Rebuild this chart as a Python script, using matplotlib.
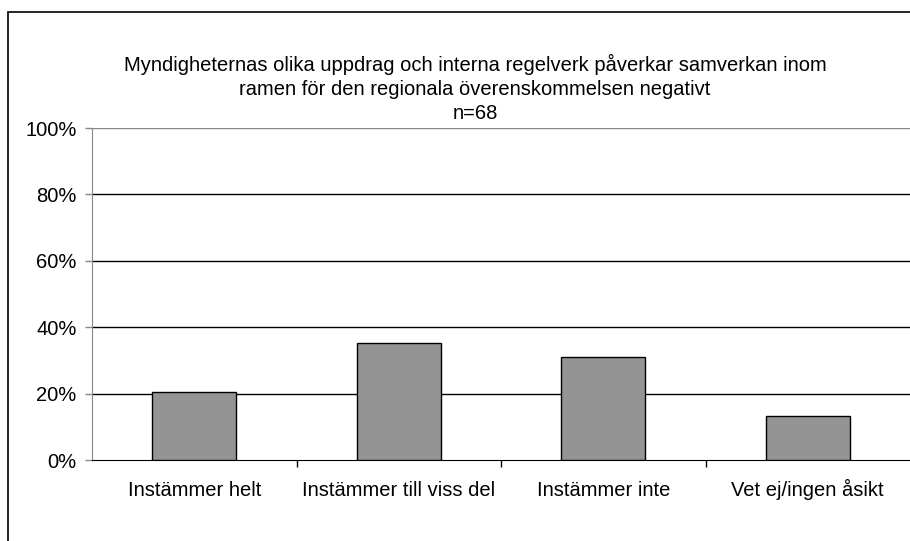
import matplotlib.pyplot as plt
from matplotlib.patches import Rectangle

plt.rcParams['font.family'] = ['Liberation Sans', 'DejaVu Sans']

categories = ["Instämmer helt", "Instämmer till viss del", "Instämmer inte", "Vet ej/ingen åsikt"]
counts = [14, 24, 21, 9]
n_total = 68
shares = [c / n_total * 100 for c in counts]
yticks = [0, 20, 40, 60, 80, 100]
title = ("Myndigheternas olika uppdrag och interna regelverk påverkar samverkan inom\n"
         "ramen för den regionala överenskommelsen negativt\n"
         "n=68")
fs = 14.5

fig = plt.figure(figsize=(9.1, 5.41), dpi=100)
# chart frame, running off the right and bottom edges
fig.patches.append(Rectangle((8 / 910, -0.1), 1.0, (541 - 12) / 541 + 0.1,
                             transform=fig.transFigure, fill=False,
                             edgecolor="black", linewidth=1.2))

ax = fig.add_axes([92 / 910, (541 - 460) / 541, (910 - 92) / 910, (460 - 128) / 541])
x = range(len(categories))
ax.bar(x, shares, width=0.41, color="#949494", edgecolor="black", linewidth=1.0, zorder=3)

ax.set_xlim(-0.5, len(categories) - 0.5)
ax.set_ylim(0, 100)
ax.set_yticks(yticks)
ax.set_yticklabels([f"{t}%" for t in yticks], fontsize=fs)
for t in yticks[1:-1]:
    ax.axhline(t, color="black", linewidth=1.0, zorder=1)
ax.axhline(100, color="#888888", linewidth=1.0, zorder=1)

ax.set_xticks([i + 0.5 for i in range(len(categories) - 1)])
ax.set_xticklabels([])
ax.tick_params(axis="x", length=5, width=1, direction="out")
ax.tick_params(axis="y", length=5, width=1, color="#888888", pad=6)
for i, lab in enumerate(categories):
    ax.text(i, -10.8, lab, ha="center", va="baseline", fontsize=fs,
            transform=ax.transData)

for s in ["top", "right"]:
    ax.spines[s].set_visible(False)
ax.spines["left"].set_color("#888888")
ax.spines["bottom"].set_color("black")

fig.text(475 / 910, 1 - 54 / 541, title, ha="center", va="top", fontsize=fs,
         linespacing=1.33)

plt.savefig("out.png", dpi=100)
